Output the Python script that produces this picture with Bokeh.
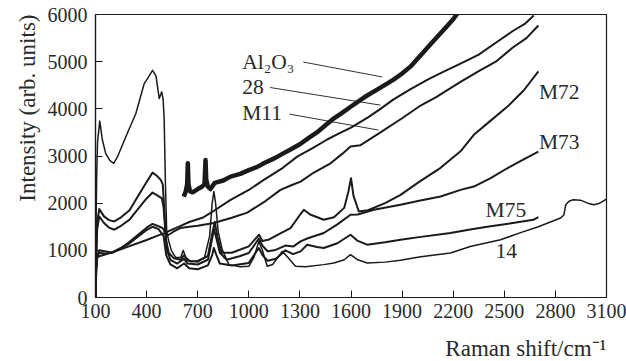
from bokeh.plotting import figure
from bokeh.models import Range1d, FixedTicker, Title
from bokeh.core.properties import value
from bokeh.embed import file_html
from bokeh.resources import INLINE

# ---------------- data ----------------
al2o3_x = [618, 630, 638, 642, 646, 655, 670, 700, 725, 740, 746, 750, 760, 775, 800, 850, 893, 950,
           1000, 1050, 1088, 1150, 1200, 1250, 1300, 1350, 1400, 1450, 1500, 1550, 1600, 1680, 1773,
           1850, 1900, 1950, 2000, 2050, 2100, 2150, 2200, 2250]
al2o3_y = [2140, 2250, 2400, 2846, 2400, 2250, 2230, 2300, 2350, 2400, 2916, 2500, 2350, 2300, 2430,
           2480, 2563, 2620, 2700, 2770, 2846, 2950, 3050, 3150, 3250, 3380, 3500, 3650, 3800, 3920,
           4050, 4250, 4450, 4620, 4750, 4900, 5100, 5300, 5500, 5700, 5900, 6150]

s28_x = [100, 103, 110, 122, 200, 300, 400, 450, 500, 550, 600, 650, 728, 800, 893, 1000, 1088, 1200,
         1284, 1380, 1460, 1530, 1600, 1700, 1773, 1850, 1950, 2050, 2150, 2243, 2350, 2450, 2550,
         2620, 2673]
s28_y = [0, 600, 850, 873, 960, 1090, 1220, 1290, 1360, 1440, 1520, 1600, 1690, 1850, 2070, 2280,
         2493, 2750, 2986, 3180, 3350, 3480, 3600, 3820, 4000, 4200, 4420, 4620, 4800, 4958, 5150,
         5400, 5650, 5800, 5980]

m11_x = [100, 104, 110, 122, 160, 200, 250, 300, 350, 400, 435, 470, 495, 505, 515, 530, 560, 599,
         650, 700, 795, 900, 991, 1100, 1186, 1250, 1304, 1382, 1480, 1550, 1597, 1656, 1773, 1900,
         2000, 2100, 2243, 2350, 2450, 2550, 2630, 2700]
m11_y = [0, 500, 850, 950, 930, 960, 1050, 1180, 1330, 1480, 1560, 1510, 1470, 1400, 1320, 1330,
         1400, 1472, 1500, 1520, 1578, 1690, 1800, 2050, 2282, 2380, 2458, 2650, 2846, 3050, 3200,
         3230, 3500, 3800, 4050, 4250, 4570, 4800, 5000, 5300, 5500, 5768]

m72_x = [100, 104, 110, 122, 150, 180, 210, 250, 300, 350, 400, 435, 460, 483, 495, 505, 515, 530,
         560, 600, 620, 640, 700, 760, 785, 800, 815, 840, 900, 1000, 1040, 1060, 1080, 1120, 1180,
         1245, 1300, 1323, 1360, 1440, 1500, 1560, 1585, 1600, 1615, 1646, 1700, 1800, 1891, 2000,
         2126, 2243, 2321, 2420, 2517, 2615, 2700]
m72_y = [0, 900, 1600, 1874, 1720, 1640, 1612, 1700, 1850, 2150, 2450, 2647, 2580, 2493, 2400, 1800,
         1200, 950, 830, 800, 900, 780, 760, 880, 1350, 1600, 1300, 950, 950, 1084, 1250, 1330, 1200,
         1230, 1350, 1472, 1750, 1859, 1760, 1648, 1700, 1900, 2250, 2529, 2150, 1824, 1850, 2000,
         2176, 2450, 2750, 3100, 3450, 3750, 4042, 4394, 4796]

m73_x = [100, 104, 110, 122, 150, 180, 210, 250, 300, 350, 400, 435, 460, 490, 500, 510, 520, 540,
         580, 620, 640, 700, 760, 785, 795, 810, 830, 870, 950, 1000, 1040, 1059, 1080, 1110, 1150,
         1215, 1260, 1304, 1343, 1440, 1520, 1597, 1640, 1734, 1891, 2000, 2126, 2243, 2321, 2420,
         2517, 2600, 2700]
m73_y = [0, 800, 1450, 1718, 1580, 1480, 1437, 1520, 1650, 1880, 2100, 2225, 2170, 2100, 1900, 1400,
         1000, 800, 720, 820, 720, 700, 800, 1250, 1450, 1250, 950, 800, 880, 944, 1150, 1250, 1100,
         980, 1000, 1100, 1080, 1190, 1250, 1367, 1550, 1754, 1760, 1859, 1965, 2050, 2141, 2282,
         2352, 2530, 2740, 2900, 3091]

m75_x = [100, 104, 110, 122, 200, 300, 400, 435, 470, 500, 515, 540, 580, 620, 650, 700, 760, 785,
         795, 810, 830, 900, 1000, 1040, 1059, 1080, 1110, 1160, 1215, 1260, 1304, 1343, 1400, 1440,
         1520, 1597, 1640, 1695, 1800, 1891, 2000, 2184, 2300, 2400, 2550, 2671, 2700]
m75_y = [0, 600, 880, 1000, 950, 1150, 1430, 1500, 1450, 1300, 900, 700, 620, 720, 620, 600, 680,
         900, 1050, 900, 720, 680, 733, 950, 1050, 900, 780, 820, 1000, 920, 978, 1120, 1070, 1050,
         1150, 1331, 1200, 1120, 1170, 1225, 1280, 1367, 1440, 1500, 1580, 1648, 1705]

s14_x = [100, 103, 107, 112, 125, 140, 160, 185, 207, 230, 278, 337, 386, 405, 435, 455, 474, 489,
         497, 503, 510, 518, 530, 545, 570, 600, 615, 630, 660, 700, 740, 770, 785, 795, 805, 820,
         844, 883, 950, 1000, 1030, 1059, 1080, 1108, 1140, 1196, 1230, 1274, 1333, 1440, 1500, 1560,
         1597, 1640, 1695, 1800, 1891, 2000, 2184, 2300, 2478, 2600, 2700, 2830, 2850, 2860, 2878,
         2900, 2950, 2990, 3026, 3060, 3100]
s14_y = [0, 1500, 2600, 3300, 3740, 3350, 3050, 2900, 2846, 2990, 3408, 3902, 4536, 4641, 4817, 4700,
         4219, 4360, 4200, 3800, 2500, 1400, 1200, 1000, 850, 850, 1000, 850, 760, 780, 850, 1300,
         2000, 2246, 2000, 1400, 1014, 697, 650, 662, 850, 1190, 1000, 662, 700, 978, 850, 662, 650,
         697, 730, 800, 908, 800, 733, 750, 790, 860, 944, 1080, 1225, 1380, 1500, 1684, 1750, 1960,
         2035, 2070, 2060, 2000, 1965, 2000, 2085]

x_ticks = [100, 400, 700, 1000, 1300, 1600, 1900, 2200, 2500, 2800, 3100]
y_ticks = [0, 1000, 2000, 3000, 4000, 5000, 6000]

curve_labels = ["Al\u2082O\u2083", "28", "M11", "M72", "M73", "M75", "14"]
label_x = [961, 961, 961, 2703, 2703, 2390, 2448]
label_y = [4986, 4465, 3909, 4360, 3303, 1853, 978]

# leader lines for Al2O3, 28, M11
lead_x0 = [1320, 1125, 1238]
lead_y0 = [4992, 4452, 3888]
lead_x1 = [1783, 1773, 1761]
lead_y1 = [4676, 4078, 3550]

x_title = "Raman shift/cm\u207b\u00b9"
y_title = "Intensity (arb. units)"

FONT = "Liberation Serif"
INK = "#1a1a1a"
TXT = "#2a2a2a"

p = figure(width=626, height=361, x_range=Range1d(100, 3100), y_range=Range1d(0, 6000),
           output_backend="svg", toolbar_location=None,
           min_border_left=95, min_border_right=20, min_border_top=14, min_border_bottom=63)
p.xgrid.visible = False
p.ygrid.visible = False
p.outline_line_color = INK
p.outline_line_width = 1.2
p.background_fill_color = "white"
p.border_fill_color = "white"

for ax in (p.xaxis[0], p.yaxis[0]):
    ax.axis_line_color = INK
    ax.axis_line_width = 1.2
    ax.major_tick_line_color = INK
    ax.major_tick_line_width = 1
    ax.major_tick_in = 7
    ax.major_tick_out = 0
    ax.minor_tick_line_color = None
    ax.major_label_text_font = FONT
    ax.major_label_text_font_size = "20px"
    ax.major_label_text_color = TXT
p.xaxis.ticker = FixedTicker(ticks=x_ticks)
p.yaxis.ticker = FixedTicker(ticks=y_ticks)
p.xaxis.major_label_standoff = 6
p.yaxis.major_label_standoff = 8
# blank spacer label that pushes the right-aligned title a little lower
p.xaxis.axis_label = "\u00a0"
p.xaxis.axis_label_text_font_size = "9px"
p.xaxis.axis_label_standoff = 0

series = [
    (m75_x, m75_y, 2.0),
    (m73_x, m73_y, 2.0),
    (m72_x, m72_y, 2.0),
    (m11_x, m11_y, 2.0),
    (s28_x, s28_y, 2.0),
    (s14_x, s14_y, 1.5),
    (al2o3_x, al2o3_y, 4.5),
]
for xs, ys, lw in series:
    p.line(xs, ys, line_color=INK, line_width=lw, line_join="round")

p.segment(lead_x0, lead_y0, lead_x1, lead_y1, line_color=INK, line_width=0.9)

p.text(label_x, label_y, text=curve_labels, text_font=value(FONT), text_font_size="21.5px",
       text_color=TXT, text_align="left", text_baseline="middle")

p.add_layout(Title(text=y_title, align="right", text_font=FONT, text_font_size="23px",
                   text_font_style="normal", text_color=TXT, standoff=10), "left")
p.add_layout(Title(text=x_title, align="right", text_font=FONT, text_font_size="23px",
                   text_font_style="normal", text_color=TXT, standoff=1,
                   text_line_height=1.0, vertical_align="bottom"), "below")

open("out.html", "w").write(file_html(p, INLINE))
